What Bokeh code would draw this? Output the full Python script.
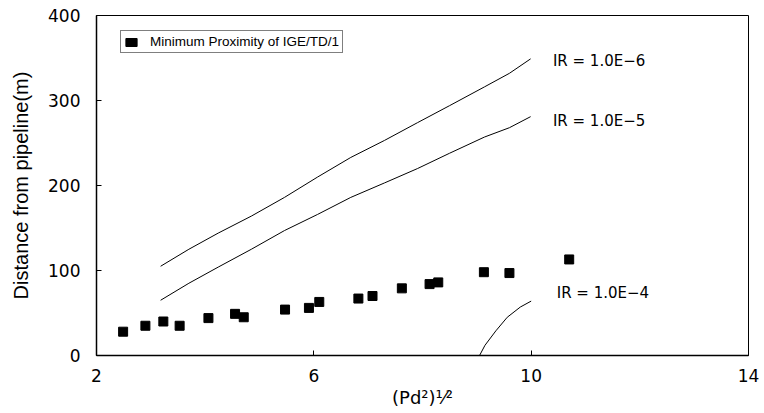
from bokeh.plotting import figure
from bokeh.models import FixedTicker, Legend, LegendItem, ColumnDataSource
from bokeh.core.properties import value
from bokeh.embed import file_html
from bokeh.resources import INLINE

# Data: minimum proximity points (IGE/TD/1)
pts_x = [2.49, 2.90, 3.23, 3.53, 4.06, 4.55, 4.71, 5.47, 5.91, 6.10, 6.82, 7.08, 7.62, 8.13, 8.29, 9.13, 9.60, 10.70]
pts_y = [28, 35, 40, 35, 44, 49, 45, 54, 56, 63, 67, 70, 79, 84, 86, 98, 97, 113]

# Individual-risk contour lines
ir6_x = [3.18, 3.7, 4.24, 4.85, 5.46, 6.07, 6.68, 7.3, 7.91, 8.5, 9.14, 9.6, 9.99]
ir6_y = [105, 125, 144, 164, 186, 210, 233, 253, 274, 294, 316, 332, 349]
ir5_x = [3.18, 3.7, 4.24, 4.85, 5.46, 6.07, 6.68, 7.3, 7.91, 8.5, 9.14, 9.6, 9.99]
ir5_y = [65, 85, 104, 125, 147, 166, 186, 203, 220, 238, 257, 268, 281]
ir4_x = [9.05, 9.15, 9.35, 9.56, 9.80, 10.0]
ir4_y = [0, 12, 29, 45, 57, 64]

label_x = [10.40, 10.40, 10.47]
label_y = [346, 276, 73]
label_text = ["IR = 1.0E\u22126", "IR = 1.0E\u22125", "IR = 1.0E\u22124"]

legend_label = "Minimum Proximity of IGE/TD/1"

x_ticks = [2, 6, 10, 14]
y_ticks = [0, 100, 200, 300, 400]

p = figure(width=764, height=413, x_range=(2, 14), y_range=(0, 400),
           output_backend="svg", toolbar_location=None,
           min_border_left=96, min_border_right=16, min_border_top=15, min_border_bottom=58)

p.xgrid.visible = False
p.ygrid.visible = False
p.outline_line_color = "black"
p.outline_line_width = 1
p.outline_line_alpha = 1
p.background_fill_color = "white"
p.border_fill_color = "white"

for ax in (p.xaxis[0], p.yaxis[0]):
    ax.axis_line_color = "black"
    ax.axis_line_width = 1.5
    ax.major_tick_in = 5
    ax.major_tick_out = 0
    ax.minor_tick_in = 0
    ax.minor_tick_out = 0
    ax.major_label_text_font = "DejaVu Sans"
    ax.major_label_text_font_size = "17px"
    ax.major_label_text_color = "black"
    ax.axis_label_text_font_style = "normal"
    ax.axis_label_text_color = "black"

p.xaxis.ticker = FixedTicker(ticks=x_ticks)
p.yaxis.ticker = FixedTicker(ticks=y_ticks)
p.xaxis.major_label_standoff = 13
p.yaxis.major_label_standoff = 16

p.xaxis.axis_label = "(Pd\u00b2)\u00b9\u2044\u00b2"
p.xaxis.axis_label_text_font = "DejaVu Sans"
p.xaxis.axis_label_text_font_size = "18px"
p.xaxis.axis_label_standoff = 2

p.yaxis.axis_label = "Distance from pipeline(m)"
p.yaxis.axis_label_text_font = "Liberation Sans"
p.yaxis.axis_label_text_font_size = "20px"
p.yaxis.axis_label_standoff = 13

p.line(ir6_x, ir6_y, line_color="black", line_width=1)
p.line(ir5_x, ir5_y, line_color="black", line_width=1)
p.line(ir4_x, ir4_y, line_color="black", line_width=1)

pts_src = ColumnDataSource(dict(x=pts_x, y=pts_y))
pts = p.scatter("x", "y", source=pts_src, marker="square", size=9,
                fill_color="black", line_color="black")

# zero-size quads at the same points (hidden under the squares) give the legend a block swatch
swatch = p.quad(left="x", right="x", top="y", bottom="y", source=pts_src,
                fill_color="black", line_color="black")

src = ColumnDataSource(dict(x=label_x, y=label_y, t=label_text))
p.text(x="x", y="y", text="t", source=src, text_font=value("DejaVu Sans"),
       text_font_size="15px", text_baseline="middle", text_align="left", text_color="black")

legend = Legend(items=[LegendItem(label=legend_label, renderers=[swatch])],
                location=(24, 302))
legend.label_text_font = "Liberation Sans"
legend.label_text_font_size = "13.5px"
legend.label_text_color = "black"
legend.glyph_width = 14
legend.glyph_height = 10
legend.label_standoff = 12
legend.padding = 3
legend.margin = 0
legend.spacing = 0
legend.border_line_color = "black"
legend.border_line_width = 1
legend.background_fill_alpha = 1
legend.label_height = 12
p.add_layout(legend, "center")

open("out.html", "w").write(file_html(p, INLINE))
